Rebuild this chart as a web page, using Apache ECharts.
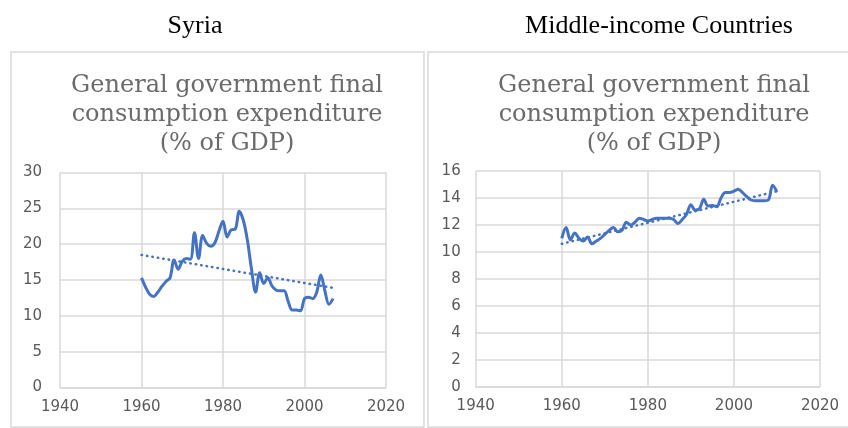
<!DOCTYPE html>
<html>
<head>
<meta charset="utf-8">
<script src="https://cdn.jsdelivr.net/npm/echarts@6/dist/echarts.min.js"></script>
<style>
html,body{margin:0;padding:0;background:#fff;}
#c{width:848px;height:428px;}
</style>
</head>
<body>
<div id="c"></div>
<script>
// ---- data ----
const panelTitles = ['Syria', 'Middle-income Countries'];
const chartTitle = 'General government final\nconsumption expenditure\n(% of GDP)';
const xTicks = [1940, 1960, 1980, 2000, 2020];

const syriaStart = 1960;
const syriaValues = [
  15.3, 14.0, 13.0, 12.7, 13.3, 14.1, 14.8, 15.3, 17.8, 16.5,
  17.6, 18.0, 17.9, 21.6, 18.0, 21.2, 20.1, 19.7, 20.2, 21.8,
  23.2, 21.0, 22.0, 22.1, 24.6, 23.3, 20.5, 16.5, 13.3, 16.0,
  14.5, 15.3, 14.2, 13.6, 13.5, 13.5, 12.0, 10.8, 10.8, 10.7,
  12.4, 12.6, 12.4, 13.3, 15.7, 13.5, 11.6, 12.4
];
const syriaTrend = [[1960, 18.5], [2007, 13.9]];

const micStart = 1960;
const micValues = [
  11.0, 11.8, 10.9, 11.4, 11.0, 10.8, 11.1, 10.6, 10.8, 11.0,
  11.3, 11.6, 11.8, 11.5, 11.6, 12.2, 12.0, 12.2, 12.5, 12.4,
  12.3, 12.4, 12.5, 12.5, 12.5, 12.5, 12.4, 12.1, 12.4, 12.8,
  13.5, 13.1, 13.2, 13.9, 13.4, 13.45, 13.35, 14.0, 14.4, 14.4,
  14.5, 14.65, 14.4, 14.1, 13.85, 13.8, 13.8, 13.8, 13.85, 14.95,
  14.45
];
const micTrend = [[1960, 10.6], [2010, 14.5]];

// ---- build ----
function pairs(start, vals) { return vals.map((v, i) => [start + i, v]); }

const gridCol = '#d9d9d9';
const labCol = '#595959';
const lineCol = '#4472c4';

function xAx(gi) {
  return {
    type: 'value', gridIndex: gi, min: xTicks[0], max: xTicks[xTicks.length - 1], interval: 20,
    axisLine: { show: true, lineStyle: { color: gridCol, width: 1.5 } },
    axisTick: { show: false },
    splitLine: { show: true, lineStyle: { color: gridCol, width: 1.5 } },
    axisLabel: { color: labCol, fontFamily: 'DejaVu Sans', fontSize: 15, margin: 12,
      formatter: v => String(v) }
  };
}
function yAx(gi, max, interval, margin) {
  return {
    type: 'value', gridIndex: gi, min: 0, max: max, interval: interval,
    axisLine: { show: false }, axisTick: { show: false },
    splitLine: { show: true, lineStyle: { color: gridCol, width: 1.5 } },
    axisLabel: { color: labCol, fontFamily: 'DejaVu Sans', fontSize: 15, margin: margin }
  };
}
function mainSeries(i, data) {
  return { type: 'line', xAxisIndex: i, yAxisIndex: i, data: data, smooth: 0.35, showSymbol: false,
    lineStyle: { color: lineCol, width: 3 }, z: 3 };
}
function trendSeries(i, data) {
  return { type: 'line', xAxisIndex: i, yAxisIndex: i, data: data, showSymbol: false,
    lineStyle: { color: lineCol, width: 2.5, type: [0.5, 5], cap: 'round' }, z: 2 };
}

const chart = echarts.init(document.getElementById('c'), null, { renderer: 'canvas' });
chart.setOption({
  animation: false,
  backgroundColor: '#fff',
  graphic: [
    { type: 'rect', shape: { x: 11, y: 52, width: 413, height: 375 }, style: { fill: 'none', stroke: gridCol, lineWidth: 1.5 } },
    { type: 'rect', shape: { x: 428, y: 52, width: 421, height: 375 }, style: { fill: 'none', stroke: gridCol, lineWidth: 1.5 } }
  ],
  title: [
    { text: panelTitles[0], left: 190, top: 8, textAlign: 'center',
      textStyle: { fontFamily: 'Liberation Serif', fontSize: 26, fontWeight: 'normal', color: '#000' } },
    { text: panelTitles[1], left: 654, top: 8, textAlign: 'center',
      textStyle: { fontFamily: 'Liberation Serif', fontSize: 26, fontWeight: 'normal', color: '#000' } },
    { text: chartTitle, left: 222, top: 66, textAlign: 'center',
      textStyle: { fontFamily: 'DejaVu Serif', fontSize: 24, lineHeight: 29, fontWeight: 'normal', color: '#6b6b6b', align: 'center' } },
    { text: chartTitle, left: 649, top: 66, textAlign: 'center',
      textStyle: { fontFamily: 'DejaVu Serif', fontSize: 24, lineHeight: 29, fontWeight: 'normal', color: '#6b6b6b', align: 'center' } }
  ],
  grid: [
    { left: 60, top: 172.5, width: 326, height: 215 },
    { left: 475.7, top: 171, width: 344.3, height: 215.7 }
  ],
  xAxis: [xAx(0), xAx(1)],
  yAxis: [yAx(0, 30, 5, 18), yAx(1, 16, 2, 15)],
  series: [
    mainSeries(0, pairs(syriaStart, syriaValues)),
    trendSeries(0, syriaTrend),
    mainSeries(1, pairs(micStart, micValues)),
    trendSeries(1, micTrend)
  ]
});
</script>
</body>
</html>
